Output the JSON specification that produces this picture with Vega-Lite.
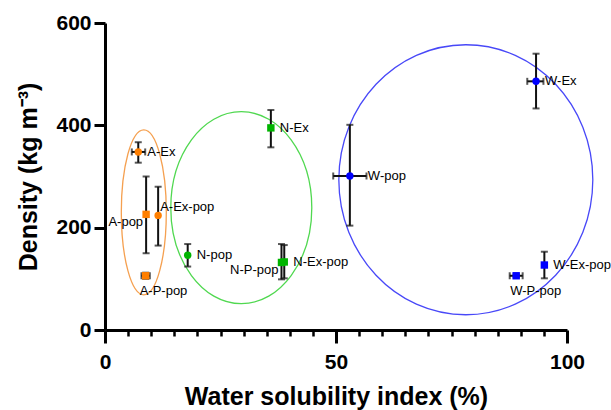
{
  "$schema": "https://vega.github.io/schema/vega-lite/v6.json",
  "width": 462,
  "height": 307,
  "autosize": "none",
  "padding": {"left": 105, "top": 23, "right": 44, "bottom": 80},
  "background": "white",
  "datasets": {
    "points": [
      {"label": "A-Ex", "group": "A", "marker": "circle", "x": 7.2, "y": 348, "yLo": 327, "yHi": 367, "xLo": 5.8, "xHi": 8.7},
      {"label": "A-pop", "group": "A", "marker": "square", "x": 8.9, "y": 226, "yLo": 150, "yHi": 300},
      {"label": "A-Ex-pop", "group": "A", "marker": "circle", "x": 11.5, "y": 224, "yLo": 165, "yHi": 280},
      {"label": "A-P-pop", "group": "A", "marker": "square", "x": 8.8, "y": 106, "yLo": 100, "yHi": 112, "xLo": 7.9, "xHi": 9.7},
      {"label": "N-pop", "group": "N", "marker": "circle", "x": 17.9, "y": 146, "yLo": 124, "yHi": 168},
      {"label": "N-P-pop", "group": "N", "marker": "square", "x": 38.2, "y": 132, "yLo": 99, "yHi": 168},
      {"label": "N-Ex-pop", "group": "N", "marker": "square", "x": 38.8, "y": 133, "yLo": 101, "yHi": 166},
      {"label": "N-Ex", "group": "N", "marker": "square", "x": 35.9, "y": 395, "yLo": 357, "yHi": 430},
      {"label": "W-pop", "group": "W", "marker": "circle", "x": 53.0, "y": 301, "yLo": 204, "yHi": 401, "xLo": 49.4, "xHi": 56.6},
      {"label": "W-Ex", "group": "W", "marker": "circle", "x": 93.3, "y": 486, "yLo": 433, "yHi": 540, "xLo": 91.4, "xHi": 94.9},
      {"label": "W-Ex-pop", "group": "W", "marker": "square", "x": 95.1, "y": 127, "yLo": 101, "yHi": 153},
      {"label": "W-P-pop", "group": "W", "marker": "square", "x": 89.0, "y": 106, "yLo": 103, "yHi": 109, "xLo": 87.6, "xHi": 90.4}
    ],
    "ellipses": [
      {"cluster": "A", "x": 8.4, "y": 230},
      {"cluster": "N", "x": 29.5, "y": 239},
      {"cluster": "W", "x": 78.1, "y": 293.6}
    ]
  },
  "resolve": {"axis": {"x": "independent", "y": "independent"}},
  "layer": [
    {
      "data": {"name": "ellipses"},
      "transform": [{"filter": "datum.cluster === 'A'"}],
      "mark": {"type": "point", "filled": false, "stroke": "#f5a050", "strokeWidth": 1.3, "opacity": 1, "size": 27225,
        "shape": "M 0.2727 0 C 0.2727 0.5523 0.1506 1 0 1 C -0.1506 1 -0.2727 0.5523 -0.2727 0 C -0.2727 -0.5523 -0.1506 -1 0 -1 C 0.1506 -1 0.2727 -0.5523 0.2727 0 Z"},
      "encoding": {
        "x": {"field": "x", "type": "quantitative", "axis": {"orient": "bottom", "values": [5, 10, 15, 20, 25, 30, 35, 40, 45, 55, 60, 65, 70, 75, 80, 85, 90, 95], "labels": false, "domain": false, "tickSize": 6, "tickWidth": 2.5, "title": null}},
        "y": {"field": "y", "type": "quantitative", "axis": null}
      }
    },
    {
      "data": {"name": "ellipses"},
      "transform": [{"filter": "datum.cluster === 'N'"}],
      "mark": {"type": "point", "filled": false, "stroke": "#50d850", "strokeWidth": 1.3, "opacity": 1, "size": 36864,
        "shape": "M 0.7344 0 C 0.7344 0.5523 0.4056 1 0 1 C -0.4056 1 -0.7344 0.5523 -0.7344 0 C -0.7344 -0.5523 -0.4056 -1 0 -1 C 0.4056 -1 0.7344 -0.5523 0.7344 0 Z"},
      "encoding": {
        "x": {"field": "x", "type": "quantitative", "axis": null},
        "y": {"field": "y", "type": "quantitative", "axis": null}
      }
    },
    {
      "data": {"name": "ellipses"},
      "transform": [{"filter": "datum.cluster === 'W'"}],
      "mark": {"type": "point", "filled": false, "stroke": "#4848f8", "strokeWidth": 1.3, "opacity": 1, "size": 72900,
        "shape": "M 0.9407 0 C 0.9407 0.5523 0.5196 1 0 1 C -0.5196 1 -0.9407 0.5523 -0.9407 0 C -0.9407 -0.5523 -0.5196 -1 0 -1 C 0.5196 -1 0.9407 -0.5523 0.9407 0 Z"},
      "encoding": {
        "x": {"field": "x", "type": "quantitative", "axis": null},
        "y": {"field": "y", "type": "quantitative", "axis": null}
      }
    },
    {
      "data": {"name": "points"},
      "mark": {"type": "errorbar", "color": "#111", "ticks": {"size": 7, "thickness": 2, "color": "#111"}, "rule": {"strokeWidth": 2, "color": "#111"}},
      "encoding": {
        "x": {"field": "x", "type": "quantitative", "axis": null},
        "y": {"field": "yLo", "type": "quantitative", "axis": null},
        "y2": {"field": "yHi"}
      }
    },
    {
      "data": {"name": "points"},
      "transform": [{"filter": "isValid(datum.xLo)"}],
      "mark": {"type": "errorbar", "color": "#111", "ticks": {"size": 7, "thickness": 2, "color": "#111"}, "rule": {"strokeWidth": 2, "color": "#111"}},
      "encoding": {
        "y": {"field": "y", "type": "quantitative", "axis": null},
        "x": {"field": "xLo", "type": "quantitative", "axis": null},
        "x2": {"field": "xHi"}
      }
    },
    {
      "data": {"name": "points"},
      "mark": {"type": "point", "filled": true, "opacity": 1, "size": 55},
      "encoding": {
        "x": {"field": "x", "type": "quantitative", "scale": {"domain": [0, 100], "nice": false},
          "axis": {"orient": "bottom", "values": [0, 50, 100], "tickSize": 13, "labelPadding": 8, "labelFlush": false, "title": "Water solubility index (%)", "titlePadding": 12}},
        "y": {"field": "y", "type": "quantitative", "scale": {"domain": [0, 600], "nice": false},
          "axis": {"orient": "left", "values": [0, 200, 400, 600], "tickSize": 11, "labelPadding": 3, "labelFlush": false, "title": "Density (kg m⁻³)", "titlePadding": 14}},
        "color": {"field": "group", "type": "nominal", "scale": {"domain": ["A", "N", "W"], "range": ["#ff7f00", "#00b400", "#0000ff"]}, "legend": null},
        "shape": {"field": "marker", "type": "nominal", "scale": {"domain": ["circle", "square"], "range": ["circle", "square"]}, "legend": null}
      }
    },
    {
      "data": {"name": "points"},
      "transform": [{"filter": {"field": "label", "oneOf": ["A-Ex", "N-pop", "N-Ex-pop", "N-Ex", "W-Ex-pop", "W-Ex"]}}],
      "mark": {"type": "text", "align": "left", "baseline": "middle", "dx": 9, "font": "Liberation Sans", "fontSize": 13, "color": "black"},
      "encoding": {
        "x": {"field": "x", "type": "quantitative", "axis": null},
        "y": {"field": "y", "type": "quantitative", "axis": null},
        "text": {"field": "label"}
      }
    },
    {
      "data": {"name": "points"},
      "transform": [{"filter": {"field": "label", "oneOf": ["W-pop"]}}],
      "mark": {"type": "text", "align": "left", "baseline": "middle", "dx": 18, "font": "Liberation Sans", "fontSize": 13, "color": "black"},
      "encoding": {
        "x": {"field": "x", "type": "quantitative", "axis": null},
        "y": {"field": "y", "type": "quantitative", "axis": null},
        "text": {"field": "label"}
      }
    },
    {
      "data": {"name": "points"},
      "transform": [{"filter": {"field": "label", "oneOf": ["A-pop", "N-P-pop"]}}],
      "mark": {"type": "text", "align": "right", "baseline": "middle", "dx": -3, "dy": 8, "font": "Liberation Sans", "fontSize": 13, "color": "black"},
      "encoding": {
        "x": {"field": "x", "type": "quantitative", "axis": null},
        "y": {"field": "y", "type": "quantitative", "axis": null},
        "text": {"field": "label"}
      }
    },
    {
      "data": {"name": "points"},
      "transform": [{"filter": {"field": "label", "oneOf": ["A-Ex-pop"]}}],
      "mark": {"type": "text", "align": "left", "baseline": "middle", "dx": 2, "dy": -8, "font": "Liberation Sans", "fontSize": 13, "color": "black"},
      "encoding": {
        "x": {"field": "x", "type": "quantitative", "axis": null},
        "y": {"field": "y", "type": "quantitative", "axis": null},
        "text": {"field": "label"}
      }
    },
    {
      "data": {"name": "points"},
      "transform": [{"filter": {"field": "label", "oneOf": ["A-P-pop", "W-P-pop"]}}],
      "mark": {"type": "text", "align": "left", "baseline": "middle", "dx": -6, "dy": 15, "font": "Liberation Sans", "fontSize": 13, "color": "black"},
      "encoding": {
        "x": {"field": "x", "type": "quantitative", "axis": null},
        "y": {"field": "y", "type": "quantitative", "axis": null},
        "text": {"field": "label"}
      }
    }
  ],
  "config": {
    "view": {"stroke": null},
    "axis": {
      "grid": false,
      "domainColor": "black", "domainWidth": 3,
      "tickColor": "black", "tickWidth": 3,
      "labelColor": "black", "labelFont": "Liberation Sans", "labelFontSize": 21, "labelFontWeight": "bold",
      "titleColor": "black", "titleFont": "Liberation Sans", "titleFontSize": 25, "titleFontWeight": "bold"
    }
  }
}
